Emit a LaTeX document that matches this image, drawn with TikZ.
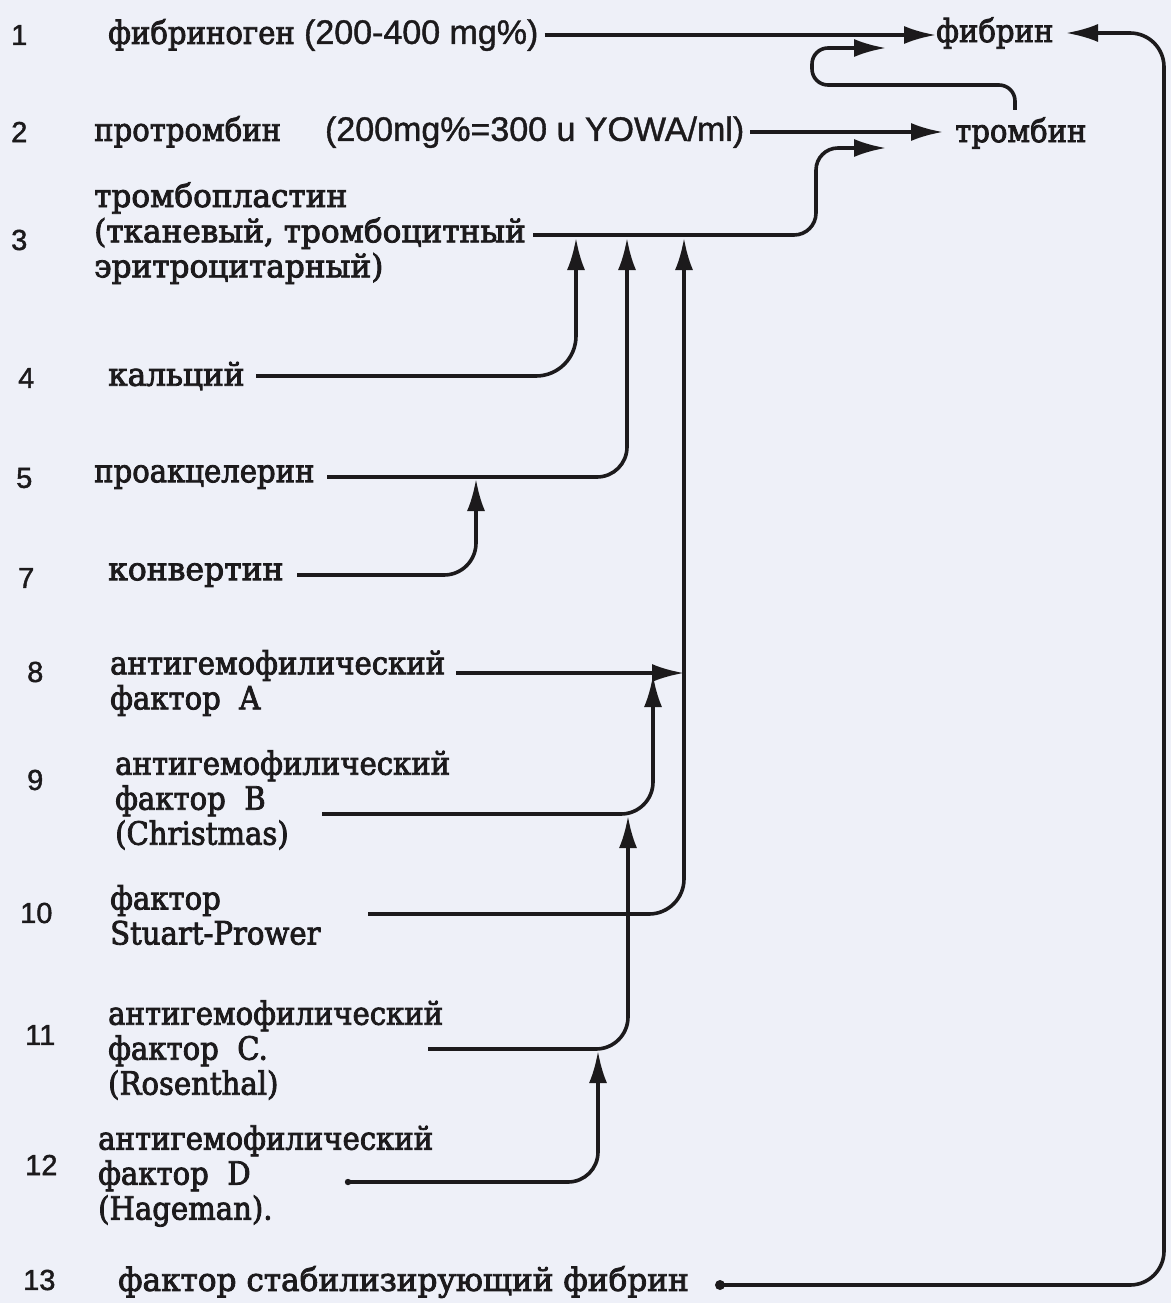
\documentclass[tikz,border=0pt]{standalone}
\usepackage{fontspec}
\usepackage{graphicx}
\setmainfont{DejaVu Serif}[FakeStretch=0.91,FakeBold=2.5]
\newfontfamily\numf{Liberation Sans}[FakeBold=1.5]
\newfontfamily\sansf{Liberation Sans}[FakeBold=1.2]
\newcommand\snum[1]{{\sansf\fontsize{34}{35}\selectfont #1}}
\newcommand\xwide[2]{\scalebox{#1}[1]{#2}}
\newcommand\stk[1]{\begin{tabular}{@{}l@{}}#1\end{tabular}}
\usetikzlibrary{arrows.meta}
\definecolor{paper}{RGB}{238,240,248}
\definecolor{ink}{RGB}{28,26,28}
\begin{document}
\begin{tikzpicture}[x=1pt,y=-1pt,
  lbl/.style={anchor=west,inner sep=0pt,align=left,text=ink,font=\fontsize{32}{35}\selectfont},
  num/.style={anchor=west,inner sep=0pt,text=ink,font=\numf\fontsize{29}{30}\selectfont},
  wire/.style={draw=ink,line width=3.6pt,rounded corners=#1},
  wire/.default=30pt,
  tip/.style={-{Latex[length=32pt,width=18pt]}}]
\useasboundingbox (0,0) rectangle (1171,1303);
\fill[paper] (0,0) rectangle (1171,1303);

% numbers
\node[num] (k1) at (11,35) {1};
\node[num] (k2) at (11,132) {2};
\node[num] (k3) at (11,240) {3};
\node[num] (k4) at (18,378) {4};
\node[num] (k5) at (16,478) {5};
\node[num] (k7) at (18,578) {7};
\node[num] (k8) at (27,672) {8};
\node[num] (k9) at (27,780) {9};
\node[num] (k10) at (20,913) {10};
\node[num] (k11) at (25,1035) {11};
\node[num] (k12) at (25,1165) {12};
\node[num] (k13) at (23,1280) {13};

% labels
\node[lbl] (n1) at (108,35) {фибриноген \snum{(200-400 mg\%)}};
\node[lbl] (n2) at (94,132) {протромбин\hspace{44pt}\snum{(200mg\%=300 u YOWA/ml)}};
\node[lbl] (n3) at (94,235) {\xwide{1.07}{\stk{тромбопластин\\(тканевый, тромбоцитный\\эритроцитарный)}}};
\node[lbl] (n4) at (108,376) {\xwide{1.07}{кальций}};
\node[lbl] (n5) at (94,477) {проакцелерин};
\node[lbl] (n7) at (108,575) {\xwide{1.08}{конвертин}};
\node[lbl] (n8) at (110,683) {антигемофилический\\фактор\ \ A};
\node[lbl] (n9) at (115,800) {антигемофилический\\фактор\ \ B\\(Christmas)};
\node[lbl] (n10) at (110,915) {фактор\\Stuart-Prower};
\node[lbl] (n11) at (108,1050) {антигемофилический\\фактор\ \ C.\\(Rosenthal)};
\node[lbl] (n12) at (98,1176) {антигемофилический\\фактор\ \ D\\(Hageman).};
\node[lbl] (n13) at (118,1282) {\xwide{1.07}{фактор стабилизирующий фибрин}};
\node[lbl] (fib) at (936,33) {фибрин};
\node[lbl] (thr) at (955,133) {тромбин};

% connector points
\coordinate (s3) at (533,235);
\coordinate (tp) at (886,148);
\coordinate (s4) at (256,376);  \coordinate (j4) at (576,238);
\coordinate (s5) at (327,477);  \coordinate (j5) at (627,238);
\coordinate (s7) at (297,575);  \coordinate (j7) at (476,479);
\coordinate (s8) at (456,673);  \coordinate (j8) at (684,673);
\coordinate (s9) at (322,814);  \coordinate (j9) at (653,675);
\coordinate (s10) at (368,914); \coordinate (j10) at (684,238);
\coordinate (s11) at (428,1049); \coordinate (j11) at (628,816);
\coordinate (s12) at (348,1182); \coordinate (j12) at (598,1051);
\coordinate (s13) at (720,1285);
\coordinate (fr) at (1066,33);
\coordinate (tht) at (1015,110);
\coordinate (thh) at (886,48);

% connectors
\draw[wire,tip] ([xshift=6pt]n1.east) -- (n1.east -| fib.west);
\draw[wire,tip,shorten >=12pt] ([xshift=6pt]n2.east) -- (n2.east -| thr.west);
\draw[wire=16pt,tip] (tht) |- (812,85) |- (thh);
\draw[wire=22pt,tip] (s3) -- (816,235) |- (tp);
\draw[wire=40pt,tip] (s4) -| (j4);
\draw[wire=30pt,tip] (s5) -| (j5);
\draw[wire=32pt,tip] (s7) -| (j7);
\draw[wire,tip] (s8) -- (j8);
\draw[wire=32pt,tip] (s9) -| (j9);
\draw[wire=35pt,tip] (s10) -| (j10);
\draw[wire=32pt,tip] (s11) -| (j11);
\draw[wire=30pt,tip] (s12) -| (j12);
\draw[wire=34pt,tip] (s13) -| (1164,33) -- (fr);
\fill[ink] (s13) circle (5);
\fill[ink] (s12) circle (3.2);
\end{tikzpicture}
\end{document}
